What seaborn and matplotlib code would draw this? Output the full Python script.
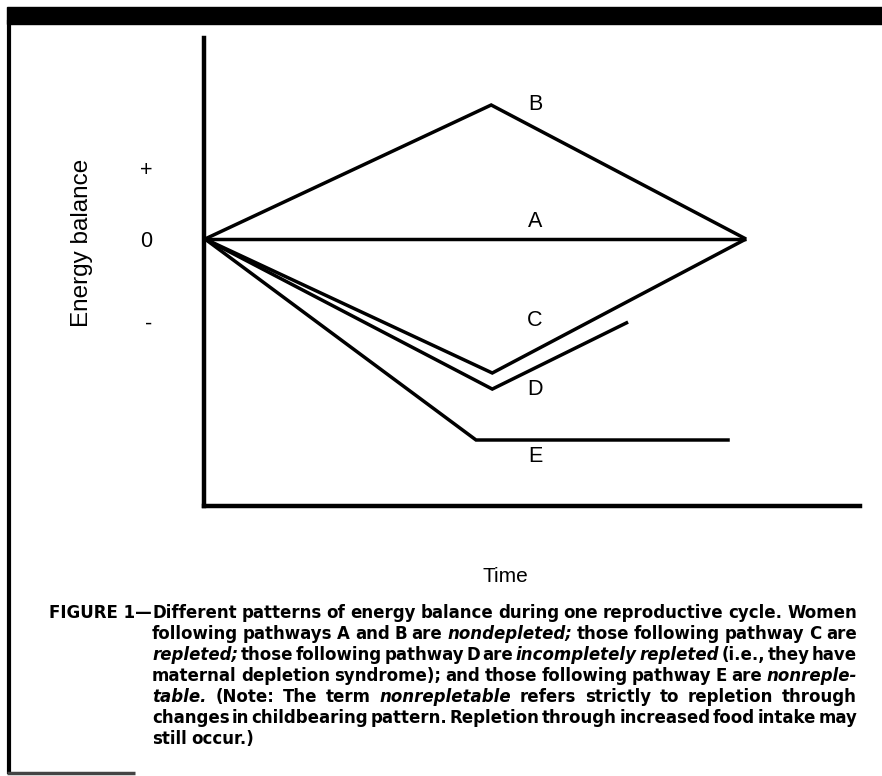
import matplotlib
matplotlib.use("Agg")
import matplotlib.pyplot as plt
from matplotlib.lines import Line2D
from matplotlib.patches import Rectangle
import pandas as pd
import seaborn as sns

# ---------------- data ----------------
pathways = ["A", "B", "C", "D", "E"]
time_A = [0.0, 1.0]
balance_A = [0.0, 0.0]
time_B = [0.0, 0.529, 1.0]
balance_B = [0.0, 1.0, 0.0]
time_C = [0.0, 0.531, 1.0]
balance_C = [0.0, -1.0, 0.0]
time_D = [0.0, 0.531, 0.782]
balance_D = [0.0, -1.12, -0.62]
time_E = [0.0, 0.501, 0.970]
balance_E = [0.0, -1.50, -1.50]

ytick_values = [0.53, 0.0, -0.62]
ytick_labels = ["+", "0", "-"]
y_label = "Energy balance"
x_label = "Time"

caption_prefix = "FIGURE 1\u2014"
caption_lines = [
    "Different patterns of energy balance during one reproductive cycle. Women",
    "following pathways A and B are _nondepleted;_ those following pathway C are",
    "_repleted;_ those following pathway D are _incompletely repleted_ (i.e., they have",
    "maternal depletion syndrome); and those following pathway E are _nonreple-_",
    "_table._ (Note: The term _nonrepletable_ refers strictly to repletion through",
    "changes in childbearing pattern. Repletion through increased food intake may",
    "still occur.)",
]

# ---------------- style ----------------
sns.set_theme(style="white")
plt.rcParams["font.family"] = ["Liberation Sans", "DejaVu Sans"]
plt.rcParams["lines.solid_capstyle"] = "butt"
plt.rcParams["lines.solid_joinstyle"] = "miter"
for k in ["text.color", "axes.labelcolor", "xtick.color", "ytick.color"]:
    plt.rcParams[k] = "black"

W, H = 882, 776
fig = plt.figure(figsize=(W / 100, H / 100), dpi=100)
fig.patch.set_facecolor("white")

ax = fig.add_axes([204 / W, 1 - 506 / H, (860 - 204) / W, (506 - 38) / H])

times = {"A": time_A, "B": time_B, "C": time_C, "D": time_D, "E": time_E}
bals = {"A": balance_A, "B": balance_B, "C": balance_C, "D": balance_D, "E": balance_E}
frames = []
for p in pathways:
    frames.append(pd.DataFrame({"time": times[p], "balance": bals[p], "pathway": p}))
df = pd.concat(frames, ignore_index=True)

sns.lineplot(data=df, x="time", y="balance", units="pathway", estimator=None,
             sort=False, color="black", linewidth=2.5, ax=ax, legend=False)

ax.set_xlim((204 - 205) / 541, (860 - 205) / 541)
ax.set_ylim((239 - 506) / 134, (239 - 38) / 134)

for s in ["top", "right"]:
    ax.spines[s].set_visible(False)
for s in ["left", "bottom"]:
    ax.spines[s].set_linewidth(3.2)
    ax.spines[s].set_color("black")
    ax.spines[s].set_capstyle("projecting")

ax.set_xticks([])
ax.set_yticks(ytick_values)
ax.set_yticklabels(ytick_labels, fontsize=15.5)
ax.tick_params(axis="y", length=0, pad=37)

ax.set_ylabel(y_label, fontsize=17.5)
ax.yaxis.set_label_coords((93 - 204) / 656, 0.562)
ax.set_xlabel(x_label, fontsize=15)
ax.xaxis.set_label_coords((505 - 204) / 656, -0.130)

label_pos = {"B": (0.61, 1.0), "A": (0.61, 0.13), "C": (0.61, -0.61),
             "D": (0.61, -1.12), "E": (0.61, -1.62)}
for p in pathways:
    lx, ly = label_pos[p]
    ax.text(lx, ly, p, fontsize=15.5, ha="center", va="center", color="black")

# ---------------- frame ----------------
fig.patches.append(Rectangle((7 / W, 1 - 24 / H), 1 - 7 / W, 17 / H,
                             transform=fig.transFigure, color="black", zorder=5))
fig.lines.append(Line2D([9 / W, 9 / W], [1 - 20 / H, 1 - 774 / H],
                        transform=fig.transFigure, color="black", linewidth=3))
fig.lines.append(Line2D([7 / W, 135 / W], [1 - 773 / H, 1 - 773 / H],
                        transform=fig.transFigure, color="#444444", linewidth=2.5))

# ---------------- caption (justified) ----------------
cap_family = ["DejaVu Sans"]
left_px, right_px = 152, 857
baselines = [618, 639, 660, 681, 702, 723, 744]


def parse(line):
    out = []
    ital = False
    for w in line.split(" "):
        if w.startswith("_"):
            ital = True
            w = w[1:]
        end = w.endswith("_")
        if end:
            w = w[:-1]
        out.append((w, ital))
        if end:
            ital = False
    return out


fig.canvas.draw()
renderer = fig.canvas.get_renderer()

# find a font size at which the tightest justified line still has ~2px gaps
base_size = 12.0
need = []
for i, line in enumerate(caption_lines[:-1]):
    words = parse(line)
    ws = []
    for w, it in words:
        t = fig.text(0, 0, w, fontsize=base_size, fontweight="bold", family=cap_family,
                     style="italic" if it else "normal")
        ws.append(t.get_window_extent(renderer).width)
        t.remove()
    avail = right_px - left_px - 2.5 * (len(words) - 1)
    need.append(base_size * avail / sum(ws))
cap_size = min(min(need), 13.5)

fig.text(left_px / W, 1 - baselines[0] / H, caption_prefix, fontsize=cap_size,
         fontweight="bold", family=cap_family, ha="right", va="baseline")

for i, line in enumerate(caption_lines):
    words = parse(line)
    y = 1 - baselines[i] / H
    texts = []
    for w, it in words:
        t = fig.text(0, y, w, fontsize=cap_size, fontweight="bold", family=cap_family,
                     style="italic" if it else "normal", ha="left", va="baseline")
        texts.append(t)
    widths = [t.get_window_extent(renderer).width for t in texts]
    last = i == len(caption_lines) - 1
    if last or len(texts) == 1:
        gap = 5.0
    else:
        gap = (right_px - left_px - sum(widths)) / (len(texts) - 1)
    x = left_px
    for t, w in zip(texts, widths):
        t.set_x(x / W)
        x += w + gap

fig.savefig("out.png", dpi=100, facecolor="white")
